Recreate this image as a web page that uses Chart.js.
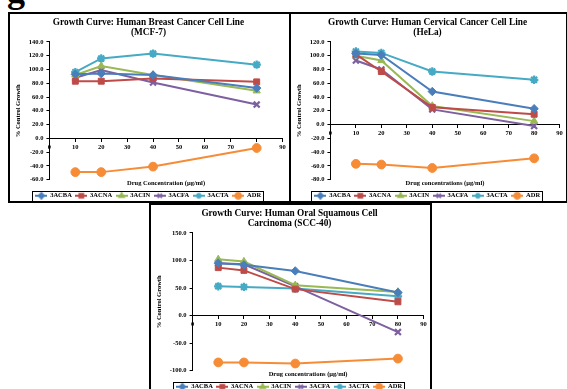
<!DOCTYPE html>
<html>
<head>
<meta charset="utf-8">
<script src="https://cdn.jsdelivr.net/npm/chart.js@4.4.1/dist/chart.umd.min.js"></script>
<style>
  body { margin: 0; width: 567px; height: 389px; overflow: hidden; position: relative; background: #fff; font-family: "Liberation Serif", serif; }
  .panel { position: absolute; border: 2px solid #000; box-sizing: border-box; background: #fff; }
  .panel canvas { display: block; }
  #figTag { position: absolute; left: 7px; top: -28px; font: bold 36px "Liberation Serif", serif; line-height: 36px; }
</style>
</head>
<body>
<div id="figTag">g</div>
<div class="panel" style="left:8px; top:12px; width:283px; height:191px;"><canvas id="mcf7" width="279" height="187"></canvas></div>
<div class="panel" style="left:289px; top:12px; width:279px; height:191px;"><canvas id="hela" width="275" height="187"></canvas></div>
<div class="panel" style="left:149px; top:203px; width:283px; height:191px;"><canvas id="scc40" width="279" height="187"></canvas></div>
<script>
// ================= DATA =================
const concentrations = [10, 20, 40, 80];
const seriesNames = ["3ACBA", "3ACNA", "3ACIN", "3ACFA", "3ACTA", "ADR"];
const seriesColors = ["#4A7EBB", "#BE4B48", "#98B954", "#7D60A0", "#46AAC5", "#F68C36"];
const seriesMarkers = ["rectRot", "rect", "triangle", "crossRot", "star", "circle"];
const xTicks = [0, 90, 10]; // min, max, step

// % control growth, rows follow seriesNames
const mcf7Growth = [
  [93, 94, 92, 73],
  [83, 83, 87, 82],
  [92, 105, 92, 69],
  [88, 99, 81, 49],
  [96, 116, 123, 107],
  [-49, -49, -41, -14]
];
const helaGrowth = [
  [103, 101, 48, 23],
  [102, 77, 25, 15],
  [100, 93, 27, 5],
  [93, 80, 22, -2],
  [106, 104, 77, 65],
  [-57, -58, -63, -49]
];
const scc40Growth = [
  [95, 92, 81, 42],
  [87, 82, 48, 25],
  [102, 98, 55, 43],
  [95, 93, 53, -30],
  [53, 52, 49, 35],
  [-85, -85, -87, -78]
];
const mcf7YTicks = [-60, 140, 20];
const helaYTicks = [-80, 120, 20];
const scc40YTicks = [-100, 150, 50];

const SERIF = "'Liberation Serif', 'Times New Roman', serif";

// ================= LEGEND ICONS =================
function legendIcon(color, marker) {
  const c = document.createElement("canvas");
  c.width = 12;
  c.height = 8;
  const g = c.getContext("2d");
  g.strokeStyle = color;
  g.fillStyle = color;
  g.lineWidth = 2;
  g.beginPath();
  g.moveTo(0, 4);
  g.lineTo(12, 4);
  g.stroke();
  g.lineWidth = 1.5;
  if (Chart.helpers && Chart.helpers.drawPoint) {
    Chart.helpers.drawPoint(g, { pointStyle: marker, radius: 3, borderWidth: 1.5, rotation: 0 }, 6, 4);
  } else {
    g.fillRect(3, 1, 6, 6);
  }
  return c;
}

// box round the legend, like the spreadsheet one
const legendFrame = {
  id: "legendFrame",
  afterDraw(chart) {
    const boxes = chart.legend && chart.legend.legendHitBoxes;
    if (!boxes || !boxes.length) return;
    const l = Math.min(...boxes.map(b => b.left)) - 4;
    const r = Math.max(...boxes.map(b => b.left + b.width)) + 2;
    const t = Math.min(...boxes.map(b => b.top)) - 2;
    const btm = Math.max(...boxes.map(b => b.top + b.height)) + 2;
    const ctx = chart.ctx;
    ctx.save();
    ctx.strokeStyle = "#000";
    ctx.lineWidth = 1;
    ctx.strokeRect(Math.round(l) + 0.5, Math.round(t) + 0.5, Math.round(r - l), Math.round(btm - t));
    ctx.restore();
  }
};

// ================= CHART =================
function growthChart(id, titleLines, xTitle, values, yTicks) {
  const icons = seriesNames.map((n, i) => legendIcon(seriesColors[i], seriesMarkers[i]));
  const datasets = seriesNames.map((name, i) => ({
    label: name,
    data: concentrations.map((c, j) => ({ x: c, y: values[i][j] })),
    borderColor: seriesColors[i],
    backgroundColor: seriesColors[i],
    borderWidth: 2,
    pointStyle: seriesMarkers[i],
    pointRadius: seriesMarkers[i] === "circle" ? 4.4 : 4.2,
    pointBorderWidth: (seriesMarkers[i] === "crossRot" || seriesMarkers[i] === "star") ? 2.2 : 1,
    pointBackgroundColor: seriesColors[i],
    pointBorderColor: seriesColors[i],
    tension: 0
  }));

  const tickFont = { family: SERIF, size: 6.5, weight: "bold" };

  return new Chart(document.getElementById(id), {
    type: "line",
    data: { datasets },
    options: {
      responsive: false,
      animation: false,
      layout: { padding: { left: 4, right: 6, top: 0, bottom: -8 } },
      plugins: {
        title: {
          display: true,
          text: titleLines,
          color: "#000",
          font: { family: SERIF, size: 9.3, weight: "bold", lineHeight: 1.07 },
          padding: { top: 4, bottom: 4 }
        },
        legend: {
          position: "bottom",
          labels: {
            usePointStyle: true,
            pointStyleWidth: 11,
            padding: 4,
            color: "#000",
            font: tickFont,
            generateLabels(chart) {
              return chart.data.datasets.map((ds, i) => ({
                text: ds.label,
                pointStyle: icons[i],
                fillStyle: ds.borderColor,
                strokeStyle: ds.borderColor,
                lineWidth: 0,
                hidden: false,
                datasetIndex: i,
                fontColor: "#000"
              }));
            }
          }
        },
        tooltip: { enabled: false }
      },
      scales: {
        x: {
          type: "linear",
          position: "bottom",
          min: xTicks[0],
          max: xTicks[1],
          ticks: { display: false },
          grid: { display: false, drawTicks: false },
          border: { display: false },
          title: { display: true, text: xTitle, color: "#000", font: tickFont, padding: { top: 0, bottom: 1 } }
        },
        xZero: {
          type: "linear",
          axis: "x",
          position: { y: 0 },
          min: xTicks[0],
          max: xTicks[1],
          ticks: { stepSize: xTicks[2], color: "#000", font: tickFont, padding: 2, maxRotation: 0 },
          grid: { drawOnChartArea: false, drawTicks: true, tickLength: 3, color: "#000" },
          border: { display: true, color: "#000", width: 1 }
        },
        y: {
          type: "linear",
          min: yTicks[0],
          max: yTicks[1],
          ticks: {
            stepSize: yTicks[2],
            color: "#000",
            font: tickFont,
            padding: 3,
            callback: v => v.toFixed(1)
          },
          grid: { drawOnChartArea: false, drawTicks: true, tickLength: 3, color: "#000" },
          border: { display: true, color: "#000", width: 1 },
          title: { display: true, text: "% Control Growth", color: "#000", font: tickFont, padding: { top: 0, bottom: 4 } }
        }
      }
    },
    plugins: [legendFrame]
  });
}

growthChart("mcf7", ["Growth Curve: Human Breast Cancer Cell Line", "(MCF-7)"],
  "Drug Concentration (µg/ml)", mcf7Growth, mcf7YTicks);
growthChart("hela", ["Growth Curve: Human Cervical Cancer Cell Line", "(HeLa)"],
  "Drug concentrations (µg/ml)", helaGrowth, helaYTicks);
growthChart("scc40", ["Growth Curve: Human Oral Squamous Cell", "Carcinoma (SCC-40)"],
  "Drug concentrations (µg/ml)", scc40Growth, scc40YTicks);
</script>
</body>
</html>
